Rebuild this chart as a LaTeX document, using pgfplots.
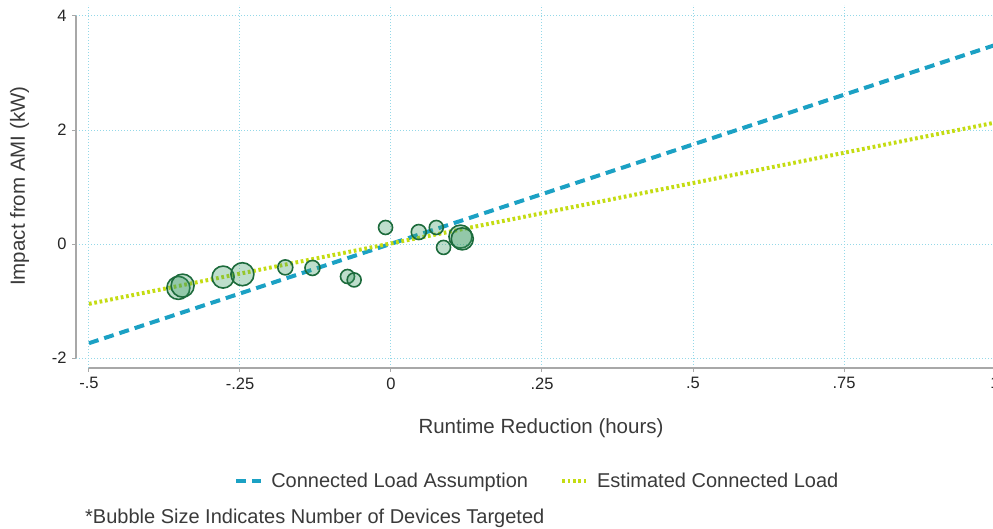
\documentclass[border=0pt]{standalone}
\usepackage{pgfplots}
\pgfplotsset{compat=1.18}
\usepackage{pgfplotstable}
\usepackage{fontspec}
\setmainfont{Liberation Sans}
\definecolor{dashc}{HTML}{1BA1C4}
\definecolor{dotc}{HTML}{C4DC12}
\definecolor{gridc}{HTML}{94D8E8}
\definecolor{bubfill}{HTML}{3A9A63}
\definecolor{bubedge}{HTML}{1D6B3C}
\definecolor{axc}{HTML}{A8A8A8}
\definecolor{txt}{HTML}{3A3A3A}

\pgfplotstableread{
x y r
-0.352 -0.77 11.5
-0.345 -0.73 11.5
-0.278 -0.58 11
-0.246 -0.53 11.5
-0.175 -0.41 7.5
-0.130 -0.42 7.5
-0.072 -0.57 7
-0.061 -0.63 7
-0.009 0.29 7
0.046 0.21 7.5
0.075 0.29 7
0.087 -0.06 7
0.115 0.13 11.5
0.118 0.09 11
}\bubbles

\begin{document}
\begin{tikzpicture}
\useasboundingbox (0,0) rectangle (993pt,529pt);
\begin{axis}[
  at={(76pt,161pt)}, anchor=south west,
  scale only axis, width=919pt, height=363pt,
  xmin=-0.5215, xmax=1.0, ymin=-2.175, ymax=4.193,
  clip=false,
  axis line style={draw=none},
  tick pos=left, tick align=outside,
  major tick length=4pt,
  tick style={axc, line width=1pt},
  xtick={-0.5,-0.25,0,0.25,0.5,0.75,1},
  xticklabels={-.5,-.25,0,.25,.5,.75,1},
  ytick={-2,0,2,4},
  yticklabels={-2,0,2,4},
  /pgf/number format/assume math mode=true,
  ticklabel style={font=\fontsize{16.5}{19}\selectfont, text=black!85},
  yticklabel style={xshift=-2pt},
  xticklabel style={yshift=-2pt},
  grid=major,
  major grid style={gridc, line width=1pt, dash pattern=on 1pt off 2pt},
  xlabel={Runtime Reduction (hours)},
  ylabel={Impact from AMI (kW)},
  label style={font=\fontsize{20.5}{24}\selectfont, text=txt},
  xlabel style={at={(axis description cs:0.506,-0.167)}, anchor=center},
  ylabel style={at={(axis description cs:-0.0615,0.501)}, anchor=center, rotate=0},
  legend style={at={(axis description cs:0.502,-0.311)}, anchor=center,
    draw=none, fill=none, font=\fontsize{20}{24}\selectfont, text=txt,
    /tikz/every odd column/.append style={column sep=6pt},
    /tikz/every even column/.append style={column sep=30pt}},
  legend columns=2,
  legend image code/.code={\draw[#1] (0pt,0pt) -- (25pt,0pt);},
]
\addplot[only marks, mark=*, scatter,
  scatter/use mapped color={draw=bubedge, fill=bubfill},
  visualization depends on={\thisrow{r} \as \rr},
  scatter/@pre marker code/.append style={/tikz/mark size=\rr pt},
  mark options={fill opacity=0.33, draw opacity=1, line width=1.6pt},
  forget plot] table[x=x, y=y] {\bubbles};
\addplot[dashc, line width=4pt, dash pattern=on 10pt off 6pt] coordinates {(-0.5,-1.74) (1,3.49)};
\addlegendentry{Connected Load Assumption}
\addplot[dotc, line width=4pt, dash pattern=on 2.7pt off 2.7pt] coordinates {(-0.5,-1.05) (1,2.13)};
\addlegendentry{Estimated Connected Load}
\draw[axc, line width=1.5pt] (axis cs:-0.5215,-2) -- (axis cs:-0.5215,4);
\draw[axc, line width=1.5pt] (axis cs:-0.5,-2.175) -- (axis cs:1,-2.175);
\end{axis}
\node[anchor=west, inner sep=0pt, font=\fontsize{20}{24}\selectfont, text=txt] at (85pt,11pt) {*Bubble Size Indicates Number of Devices Targeted};
\end{tikzpicture}
\end{document}
